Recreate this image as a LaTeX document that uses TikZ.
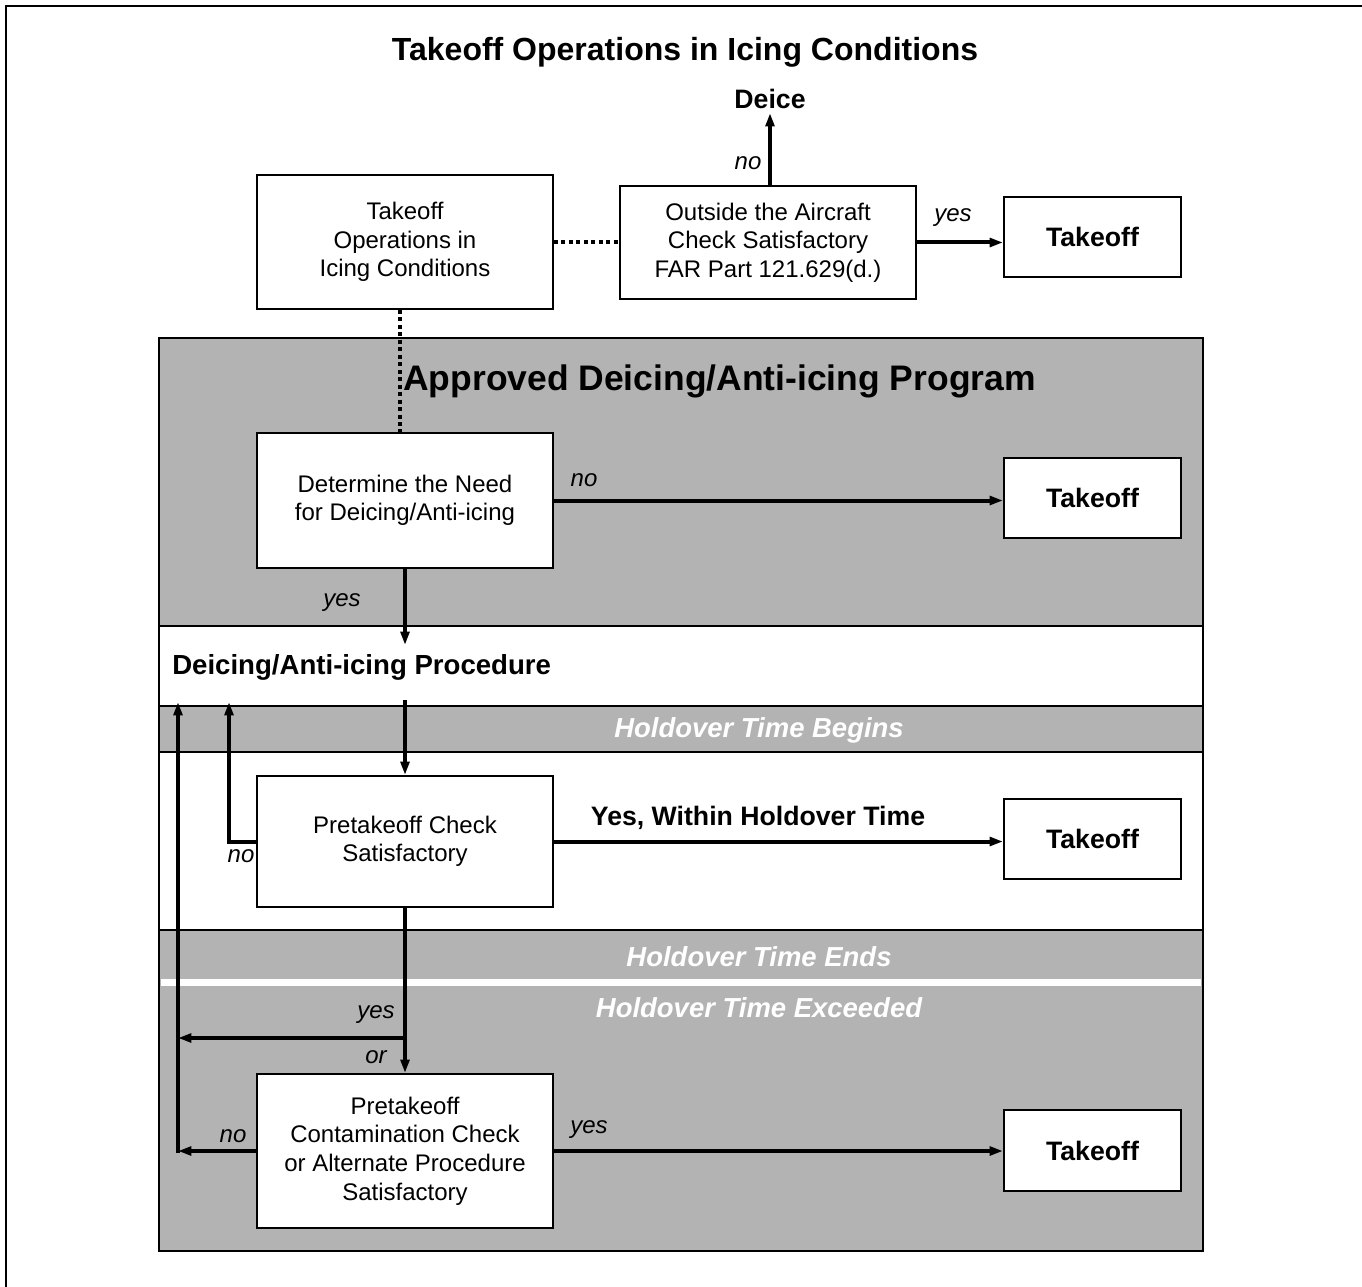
\documentclass[tikz,border=0pt]{standalone}
\usepackage{fontspec}
\setmainfont{Liberation Sans}
\usetikzlibrary{arrows.meta}
\definecolor{bandgray}{RGB}{179,179,179}

\begin{document}
\begin{tikzpicture}[x=0.75pt,y=0.75pt,yscale=-1,xscale=1,
  box/.style={draw, line width=1.5pt, fill=white, align=center, inner sep=0pt, font=\fontsize{18}{21.4}\selectfont},
  procbox/.style={box, minimum width=222pt},
  endbox/.style={box, minimum width=132.75pt, minimum height=60.5pt, font=\bfseries\fontsize{20}{24}\selectfont},
  flow/.style={line width=3pt, -{Triangle[length=10pt,width=6.5pt]}},
  dots/.style={line width=3pt, dash pattern=on 3pt off 2.6pt},
  lbl/.style={font=\itshape\fontsize{18}{21.6}\selectfont, inner sep=0pt},
  bandtxt/.style={text=white, font=\bfseries\itshape\fontsize{20.6}{24}\selectfont, inner sep=0pt}]

\useasboundingbox (0,0) rectangle (1362,1287);
\draw[line width=2pt] (6,1287) -- (6,6) -- (1362,6);

% program area and bands
\draw[line width=1.5pt, fill=bandgray] (159,338) rectangle (1203,1251);
\draw[line width=1.5pt, fill=white] (159,626) rectangle (1203,706);
\draw[line width=1.5pt, fill=white] (159,752) rectangle (1203,930);
\fill[white] (161,979) rectangle (1201,986);

\node (title) [font=\bfseries\fontsize{24}{28}\selectfont] at (685,52) {Takeoff Operations in Icing Conditions};
\node (program) [anchor=west, inner sep=0pt, font=\bfseries\fontsize{26.6}{30}\selectfont] at (403,381) {Approved Deicing/Anti-icing Program};
\node (procedure) [anchor=west, inner sep=0pt, font=\bfseries\fontsize{20.7}{24}\selectfont] at (172,667) {Deicing/Anti-icing Procedure};
\node (begins) [bandtxt] at (759,730) {Holdover Time Begins};
\node (ends) [bandtxt] at (759,957) {Holdover Time Ends};
\node (exceeded) [bandtxt] at (759,1008) {Holdover Time Exceeded};

% boxes
\node (icing) [procbox, minimum height=100.5pt] at (405,242) {Takeoff\\Operations in\\Icing Conditions};
\node (outside) [procbox, minimum height=84.75pt] at (768,242.5) {Outside the Aircraft\\Check Satisfactory\\FAR Part 121.629(d.)};
\node (deice) [inner sep=3pt, font=\bfseries\fontsize{20}{24}\selectfont] at (770,99) {Deice};
\node (take1) [endbox] at (1092.5,237) {Takeoff};
\node (need) [procbox, minimum height=101.25pt] at (405,500.5) {Determine the Need\\for Deicing/Anti-icing};
\node (take2) [endbox] at (1092.5,498) {Takeoff};
\node (pre) [procbox, minimum height=98.25pt] at (405,841.5) {Pretakeoff Check\\Satisfactory};
\node (take3) [endbox] at (1092.5,839) {Takeoff};
\node (cont) [procbox, minimum height=115.5pt] at (405,1151) {Pretakeoff\\Contamination Check\\or Alternate Procedure\\Satisfactory};
\node (take4) [endbox] at (1092.5,1150.5) {Takeoff};

\coordinate (procin) at (405,645);
\coordinate (procout) at (405,700);
\coordinate (split) at (405,1038);
\coordinate (backin) at (229,702);
\coordinate (backout) at (178,702);
\coordinate (loopfoot) at (178,1153);

% connectors
\draw[dots] (icing.east) -- (outside.west |- icing.east);
\draw[dots] ([xshift=-3.75pt]icing.south) -- ([xshift=-3.75pt]need.north);
\draw[flow] ([xshift=1.5pt]outside.north) -- ([xshift=1.5pt]outside.north |- deice.south);
\draw[flow] (outside.east) -- (take1.west |- outside.east);
\draw[flow] (need.east) -- (take2.west |- need.east);
\draw[flow] (need.south) -- (procin);
\draw[flow] (procout) -- (pre.north);
\draw[flow] (pre.east) -- (take3.west |- pre.east);
\draw[flow] (pre.west) -| (backin);
\draw[line width=3pt] (pre.south) -- (split);
\draw[flow] (split) -- (cont.north);
\draw[flow] (split) -- (split -| backout);
\draw[flow] (cont.west) -- (cont.west -| backout);
\draw[flow] (loopfoot) -- (backout);
\draw[flow] (cont.east) -- (take4.west |- cont.east);

% labels
\node (lno1) [lbl] at (748,163) {no};
\node (lyes1) [lbl] at (953,218) {yes};
\node (lno2) [lbl] at (584,480) {no};
\node (lyes2) [lbl] at (342,603) {yes};
\node (lwithin) [inner sep=0pt, font=\bfseries\fontsize{20}{24}\selectfont] at (758,818) {Yes, Within Holdover Time};
\node (lno3) [lbl] at (241,856) {no};
\node (lyes3) [lbl] at (376,1015) {yes};
\node (lor) [lbl] at (376,1057) {or};
\node (lno4) [lbl] at (233,1136) {no};
\node (lyes4) [lbl] at (589,1130) {yes};
\end{tikzpicture}
\end{document}
